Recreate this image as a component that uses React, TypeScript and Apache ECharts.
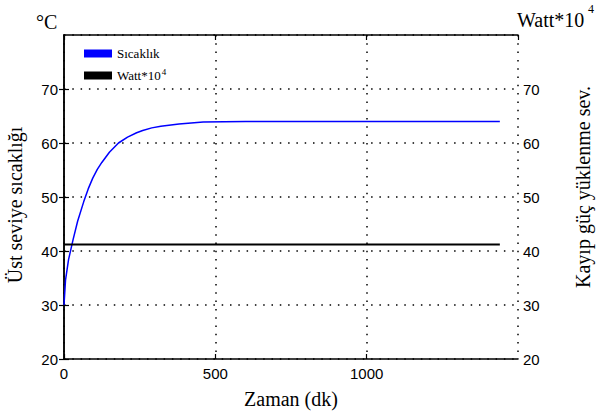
import React, { useEffect, useRef } from "react";
import * as echarts from "echarts";

const timeMin = [0, 5, 15, 30, 45, 65, 80, 95, 110, 125, 150, 180, 210, 240, 260, 290, 320, 380, 460, 600, 800, 1000, 1200, 1440];
const sicaklik = [30, 34.6, 38.4, 42.1, 45.5, 49.1, 51.5, 53.5, 55.1, 56.4, 58.3, 60.0, 61.1, 61.9, 62.3, 62.8, 63.1, 63.5, 63.9, 64, 64, 64, 64, 64];
const wattTime = [0, 1440];
const watt = [41.2, 41.2];
const xTicks = [0, 500, 1000, 1500];
const yTicks = [20, 30, 40, 50, 60, 70, 80];

const SERIF = '"Liberation Serif", "Times New Roman", serif';
const SANS = '"Liberation Sans Narrow", "Liberation Sans", Arial, sans-serif';

export default function App() {
  const ref = useRef<HTMLDivElement>(null);
  useEffect(() => {
    const chart = echarts.init(ref.current!, null, { renderer: "svg" });
    const grid = { left: 64, right: 82, top: 35, bottom: 58, containLabel: false };
    const dotted = { show: true, lineStyle: { color: "#000", width: 1.5, type: [1.5, 6.8] as any } };
    const axisLine = { show: true, lineStyle: { color: "#000", width: 1.5 } };
    const tick = { show: true, inside: true, length: 5, lineStyle: { color: "#000", width: 1.2 } };
    const label = { color: "#000", fontFamily: SANS, fontSize: 15, formatter: (v: number) => String(v) };
    chart.setOption({
      animation: false,
      backgroundColor: "#fff",
      grid,
      legend: {
        orient: "vertical",
        left: 79,
        top: 42,
        itemWidth: 28,
        itemHeight: 8,
        itemGap: 7,
        icon: "rect",
        data: ["Sıcaklık", "Watt*10^4"],
        formatter: (n: string) => (n === "Watt*10^4" ? "Watt*10{sup|4}" : n),
        textStyle: {
          fontFamily: SERIF,
          fontSize: 13,
          color: "#000",
          rich: { sup: { fontFamily: SERIF, fontSize: 9, padding: [0, 0, 8, 1], color: "#000" } },
        },
      },
      xAxis: [
        {
          type: "value",
          min: xTicks[0],
          max: xTicks[xTicks.length - 1],
          interval: 500,
          axisLine,
          axisTick: tick,
          axisLabel: { ...label, margin: 7, showMaxLabel: false },
          splitLine: dotted,
        },
        {
          type: "value",
          position: "top",
          min: xTicks[0],
          max: xTicks[xTicks.length - 1],
          interval: 500,
          axisLine,
          axisTick: tick,
          axisLabel: { show: false },
          splitLine: { show: false },
        },
      ],
      yAxis: [
        {
          type: "value",
          min: yTicks[0],
          max: yTicks[yTicks.length - 1],
          interval: 10,
          axisLine,
          axisTick: tick,
          axisLabel: { ...label, margin: 6, showMaxLabel: false },
          splitLine: dotted,
        },
        {
          type: "value",
          position: "right",
          min: yTicks[0],
          max: yTicks[yTicks.length - 1],
          interval: 10,
          axisLine,
          axisTick: tick,
          axisLabel: { ...label, margin: 5, showMaxLabel: false },
          splitLine: { show: false },
        },
      ],
      series: [
        {
          name: "Sıcaklık",
          type: "line",
          xAxisIndex: 0,
          yAxisIndex: 0,
          showSymbol: false,
          smooth: false,
          lineStyle: { color: "#0000ff", width: 1.5 },
          itemStyle: { color: "#0000ff" },
          data: timeMin.map((t, i) => [t, sicaklik[i]]),
        },
        {
          name: "Watt*10^4",
          type: "line",
          xAxisIndex: 0,
          yAxisIndex: 1,
          showSymbol: false,
          lineStyle: { color: "#000", width: 1.8 },
          itemStyle: { color: "#000" },
          data: wattTime.map((t, i) => [t, watt[i]]),
        },
      ],
      graphic: [
        {
          type: "text",
          x: 36,
          y: 12,
          style: { text: "°C", font: `20px ${SERIF}`, fill: "#000" },
        },
        {
          type: "text",
          x: 517,
          y: 10,
          style: { text: "Watt*10", font: `20px ${SERIF}`, fill: "#000" },
        },
        {
          type: "text",
          x: 588,
          y: 3,
          style: { text: "4", font: `12px ${SERIF}`, fill: "#000" },
        },
        {
          type: "text",
          x: 15,
          y: 205,
          rotation: Math.PI / 2,
          style: {
            text: "Üst seviye sıcaklığı",
            font: `20px ${SERIF}`,
            fill: "#000",
            textAlign: "center",
            textVerticalAlign: "middle",
          },
        },
        {
          type: "text",
          x: 583,
          y: 187,
          rotation: Math.PI / 2,
          style: {
            text: "Kayıp güç yüklenme sev.",
            font: `20px ${SERIF}`,
            fill: "#000",
            textAlign: "center",
            textVerticalAlign: "middle",
          },
        },
        {
          type: "text",
          x: 291,
          y: 399,
          style: {
            text: "Zaman (dk)",
            font: `20px ${SERIF}`,
            fill: "#000",
            textAlign: "center",
            textVerticalAlign: "middle",
          },
        },
      ],
    });
    return () => chart.dispose();
  }, []);
  return (
    <div
      ref={ref}
      style={{ position: "fixed", left: 0, top: 0, width: 600, height: 417, background: "#fff" }}
    />
  );
}
